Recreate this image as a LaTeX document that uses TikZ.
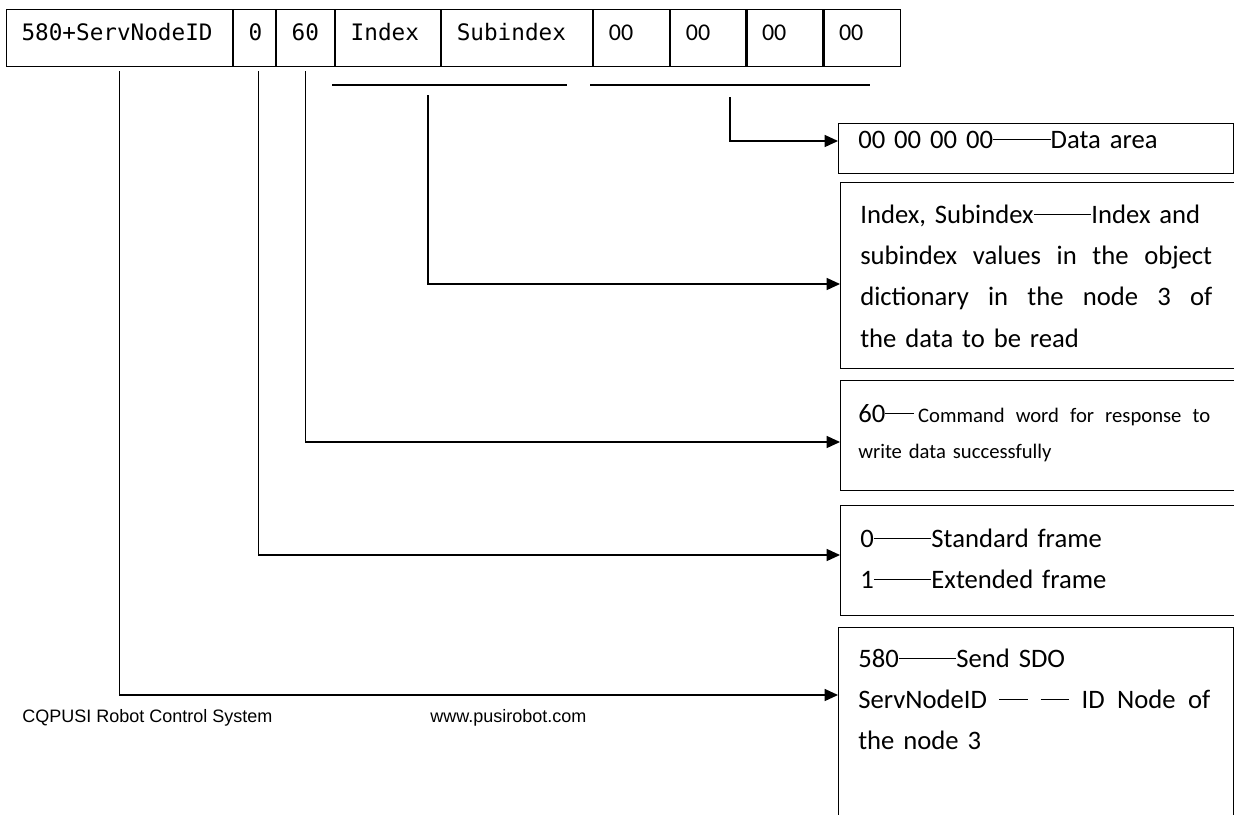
\documentclass[tikz,border=0pt]{standalone}
\usepackage{fontspec}
\usepackage{tikz}
\usetikzlibrary{arrows.meta,positioning}

\newfontfamily\cellfont{DejaVu Sans Mono}
\newfontfamily\notefont{Carlito}
\newfontfamily\footfont{Liberation Sans}
\newcommand{\longdash}{\rule[0.3em]{1.08em}{0.7pt}}

\begin{document}
\begin{tikzpicture}
    [x=0.75pt,y=-0.75pt,
    cell/.style={draw,line width=0.8pt,anchor=north west,inner xsep=11.25pt,inner ysep=0pt,
        text height=23.25pt,text depth=19.5pt,align=left,font=\cellfont\fontsize{17pt}{20pt}\selectfont},
    datacell/.style={cell,font=\notefont\fontsize{18pt}{20pt}\selectfont},
    box/.style={draw,line width=1.1pt,anchor=north west,inner sep=0pt,minimum width=296.25pt},
    note/.style={anchor=base west,inner sep=0pt,text width=264pt,align=left,
        font=\notefont\fontsize{20pt}{31pt}\selectfont},
    link/.style={-{Triangle[length=10pt,width=9pt]},line width=1pt},
    bar/.style={line width=2.2pt}]

\useasboundingbox (0,0) rectangle (1234,814);

%the frame as a row of cells
\node[cell,text width=147pt] (sid) at (6,9) {580+ServNodeID};
\node[cell,text width=9pt,right=0pt of sid] (zero) {0};
\node[cell,text width=21pt,right=0pt of zero] (sixty) {60};
\node[cell,text width=56.25pt,right=0pt of sixty] (idx) {Index};
\node[cell,text width=90.75pt,right=0pt of idx] (subidx) {Subindex};
\node[datacell,text width=34.5pt,right=0pt of subidx] (d1) {00};
\node[datacell,text width=33.75pt,right=0pt of d1] (d2) {00};
\node[datacell,text width=34.5pt,right=0pt of d2] (d3) {00};
\node[datacell,text width=34.5pt,right=0pt of d3] (d4) {00};

%brackets under index and data bytes
\coordinate (idxL) at (332,85);
\coordinate (idxR) at (567,85);
\coordinate (datL) at (590,85);
\coordinate (datR) at (870,85);
\draw[bar] (idxL) -- (idxR);
\draw[bar] (datL) -- (datR);
\coordinate (idxT) at (428,95);
\coordinate (datT) at (730,97);

%explanation boxes
\node[box,minimum height=37.5pt] (area) at (838,123) {};
\node[box,minimum height=139.5pt] (index) at (840,182) {};
\node[box,minimum height=82.5pt] (cmd) at (840,380) {};
\node[box,minimum height=82.5pt] (frame) at (840,505) {};
\node[box,minimum height=160pt] (send) at (838,627) {};

\node[note] (areatxt) at (858,148) {00 00 00 00\longdash\longdash Data area};
\node[note] (indextxt) at (860,223) {Index, Subindex\longdash\longdash Index and\\
    subindex\hfill values\hfill in\hfill the\hfill object\\
    dictionary\hfill in\hfill the\hfill node\hfill 3\hfill of\\
    the data to be read};
\node[note,font=\notefont\fontsize{15.5pt}{27pt}\selectfont] (cmdtxt) at (858,422)
    {{\fontsize{20pt}{27pt}\selectfont 60\longdash}\hspace{3pt}Command\hfill word\hfill for\hfill response\hfill to\\
    write data successfully};
\node[note] (frametxt) at (860,547) {0\longdash\longdash Standard frame\\1\longdash\longdash Extended frame};
\node[note] (sendtxt) at (858,667) {580\longdash\longdash Send SDO\\
    ServNodeID\hfill\longdash\hfill\longdash\hfill ID\hfill Node\hfill of\\
    the node 3};

%arrow ends on the boxes
\coordinate (aArea) at (838,141);
\coordinate (aIndex) at (840,284);
\coordinate (aCmd) at (840,442);
\coordinate (aFrame) at (840,555);
\coordinate (aSend) at (838,695);

%connectors
\draw[link] (datT) |- (aArea);
\draw[link] (idxT) |- (aIndex);
\draw[link] ([yshift=-3pt]sixty.south) |- (aCmd);
\draw[link] ([xshift=3pt,yshift=-3pt]zero.south) |- (aFrame);
\draw[link] ([yshift=-3pt]sid.south) |- (aSend);

%footer
\node[anchor=base west,inner sep=0pt,font=\footfont\fontsize{13.5pt}{16pt}\selectfont] (company) at (22,722) {CQPUSI Robot Control System};
\node[anchor=base west,inner sep=0pt,font=\footfont\fontsize{13.5pt}{16pt}\selectfont] (site) at (430,722) {www.pusirobot.com};

\end{tikzpicture}
\end{document}
